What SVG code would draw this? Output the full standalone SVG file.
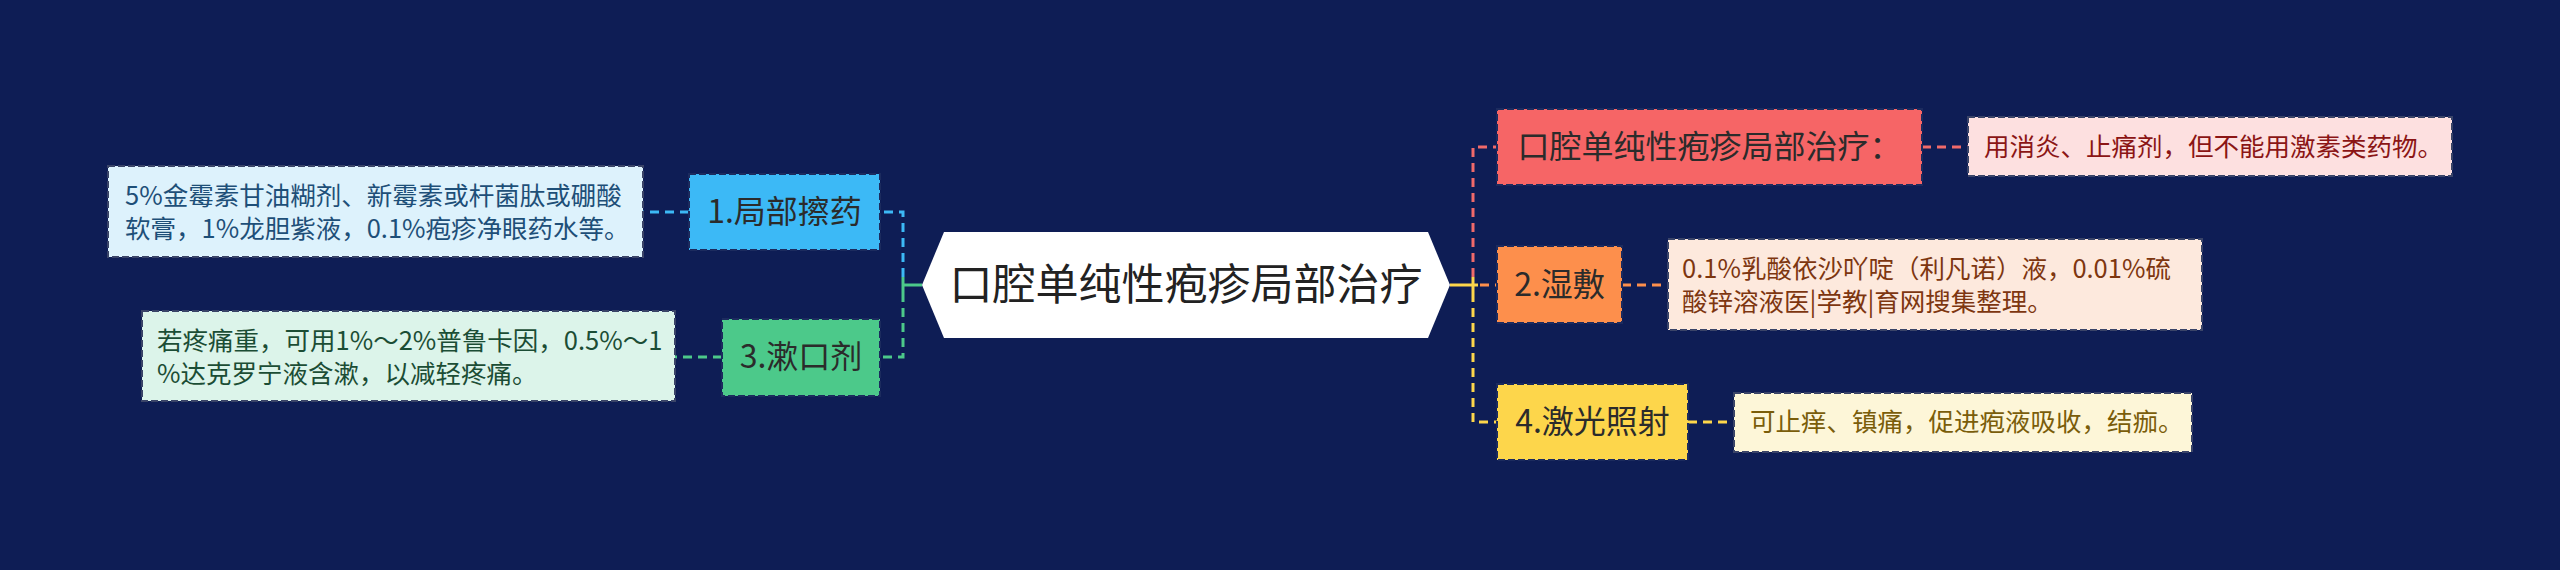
<svg xmlns="http://www.w3.org/2000/svg" width="2560" height="570" viewBox="0 0 2560 570">
<style>
text{font-family:"Noto Sans CJK SC","Noto Sans",sans-serif;}
.node{stroke:#1c2b5e;stroke-width:2;stroke-dasharray:7 3;}
.leaf{stroke:#3a4468;stroke-width:2;stroke-dasharray:7 3;}
.t1{font-size:32px;fill:#2b2b2b;text-anchor:middle;}
.tl{font-size:25.5px;}
.c{fill:none;stroke-width:3;stroke-dasharray:9 6;}
.s{fill:none;stroke-width:3;}
</style>
<rect x="0" y="0" width="2560" height="570" fill="#0e1d55"/>
<g id="connectors">
  <path class="c" stroke="#3cb9f6" d="M903 277 V212 H880"/>
  <path class="c" stroke="#3cb9f6" d="M689 212 H643"/>
  <path class="c" stroke="#4cc98a" d="M903 293 V357 H880"/>
  <path class="c" stroke="#4cc98a" d="M722 357 H675"/>
  <path class="s" stroke="#4cc98a" d="M922 285 H903 M903 277 V293"/>
  <path class="c" stroke="#f06a6a" d="M1473 277 V147 H1497"/>
  <path class="c" stroke="#f06a6a" d="M1922 147 H1968"/>
  <path class="c" stroke="#fd8f4c" d="M1480 285 H1497"/>
  <path class="c" stroke="#fd8f4c" d="M1622 285 H1668"/>
  <path class="c" stroke="#fdd64b" d="M1473 293 V422 H1497"/>
  <path class="c" stroke="#fdd64b" d="M1688 422 H1734"/>
  <path class="s" stroke="#fdd64b" d="M1450 285 H1478 M1473 277 V293"/>
</g>
<g id="root">
  <polygon points="922,285 944,232 1428,232 1450,285 1428,338 944,338" fill="#ffffff"/>
  <text x="1186" y="300" font-size="43" fill="#222" text-anchor="middle">口腔单纯性疱疹局部治疗</text>
</g>
<g id="n1">
  <rect class="node" x="689" y="174" width="191" height="76" fill="#3cb9f6"/>
  <text class="t1" x="784.5" y="223">1.局部擦药</text>
</g>
<g id="leaf1">
  <rect class="leaf" x="108" y="166" width="535" height="91" fill="#ddf2fc"/>
  <text class="tl" fill="#1e4f78"><tspan x="125" y="205">5%金霉素甘油糊剂、新霉素或杆菌肽或硼酸</tspan><tspan x="125" y="238">软膏，1%龙胆紫液，0.1%疱疹净眼药水等。</tspan></text>
</g>
<g id="n3">
  <rect class="node" x="722" y="319" width="158" height="77" fill="#4cc98a"/>
  <text class="t1" x="801" y="368">3.漱口剂</text>
</g>
<g id="leaf3">
  <rect class="leaf" x="142" y="311" width="533" height="90" fill="#dcf4ea"/>
  <text class="tl" fill="#1b4d35"><tspan x="157" y="350">若疼痛重，可用1%～2%普鲁卡因，0.5%～1</tspan><tspan x="157" y="383">%达克罗宁液含漱，以减轻疼痛。</tspan></text>
</g>
<g id="nred">
  <rect class="node" x="1497" y="109" width="425" height="76" fill="#f66566"/>
  <text class="t1" x="1709.5" y="158" fill="#3d1f1f">口腔单纯性疱疹局部治疗：</text>
</g>
<g id="leafred">
  <rect class="leaf" x="1968" y="117" width="484" height="59" fill="#fde0e0"/>
  <text class="tl" x="1984" y="156" fill="#8b1515">用消炎、止痛剂，但不能用激素类药物。</text>
</g>
<g id="n2">
  <rect class="node" x="1497" y="246" width="125" height="77" fill="#fd8f4c"/>
  <text class="t1" x="1559.5" y="296">2.湿敷</text>
</g>
<g id="leaf2">
  <rect class="leaf" x="1668" y="239" width="534" height="91" fill="#fde9dd"/>
  <text class="tl" fill="#7d3610"><tspan x="1682" y="278">0.1%乳酸依沙吖啶（利凡诺）液，0.01%硫</tspan><tspan x="1682" y="311">酸锌溶液医|学教|育网搜集整理。</tspan></text>
</g>
<g id="n4">
  <rect class="node" x="1497" y="384" width="191" height="76" fill="#fdd64b"/>
  <text class="t1" x="1592.5" y="433">4.激光照射</text>
</g>
<g id="leaf4">
  <rect class="leaf" x="1734" y="393" width="458" height="59" fill="#fdf6d8"/>
  <text class="tl" x="1750" y="431" fill="#7a5d0a">可止痒、镇痛，促进疱液吸收，结痂。</text>
</g>
</svg>
